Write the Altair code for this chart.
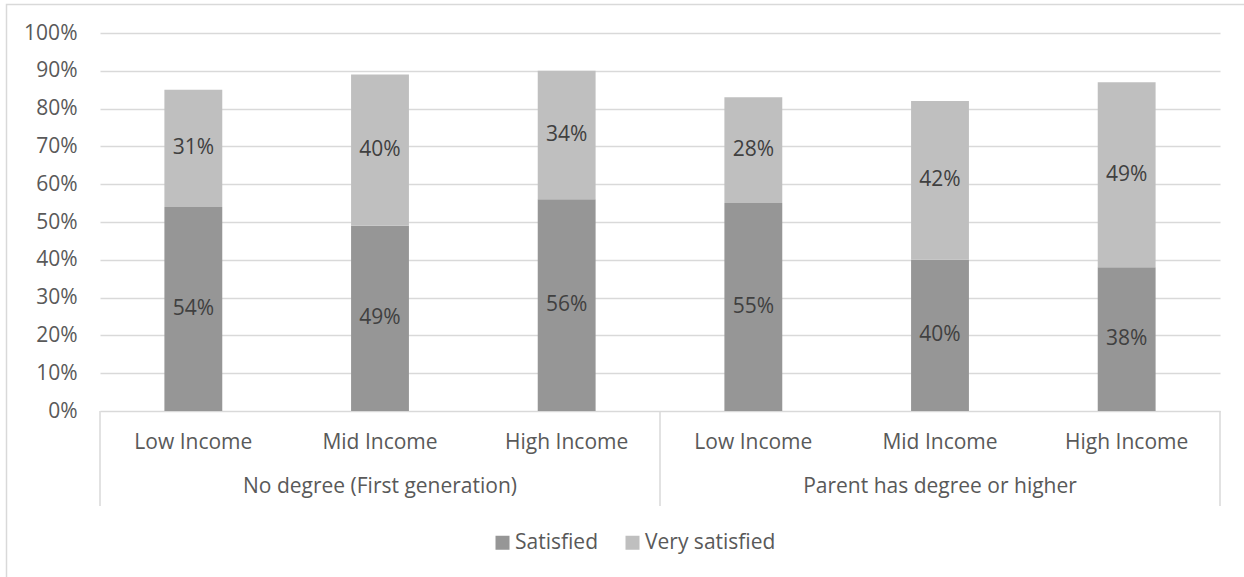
import altair as alt
import pandas as pd

# Survey results: share of students satisfied / very satisfied,
# by parental education and household income
groups = ["No degree (First generation)", "Parent has degree or higher"]
incomes = ["Low Income", "Mid Income", "High Income"]
series = ["Satisfied", "Very satisfied"]
satisfied = [54, 49, 56, 55, 40, 38]
very_satisfied = [31, 40, 34, 28, 42, 49]
y_ticks = [0, 10, 20, 30, 40, 50, 60, 70, 80, 90, 100]
colors = ["#969696", "#bfbfbf"]

FONT = "Open Sans"
FS = 21
TEXT = "#595959"
LINE = "#d9d9d9"

slots, slot_group, slot_income = [], [], []
for gi, g in enumerate(groups):
    for inc in incomes:
        slots.append(f"{gi}|{inc}")
        slot_group.append(g)
        slot_income.append(inc)

rows = []
for i, s in enumerate(slots):
    for k, (name, vals) in enumerate(zip(series, [satisfied, very_satisfied])):
        rows.append({"slot": s, "group": slot_group[i], "income": slot_income[i],
                     "series": name, "order": k, "value": vals[i]})
df = pd.DataFrame(rows)
cats = pd.DataFrame({"slot": slots, "income": slot_income, "group": slot_group})

x_scale = alt.Scale(domain=slots, paddingInner=0, paddingOuter=0)
x_enc = alt.X("slot:N", scale=x_scale, axis=None)
y_scale = alt.Scale(domain=[0, 100], nice=False)

y_axis = alt.Axis(values=y_ticks, tickCount=11, labelExpr="datum.value + '%'", title=None,
                  domain=False, ticks=False, labelPadding=23,
                  labelOverlap=False, labelFontSize=FS,
                  labelColor=TEXT, labelFont=FONT,
                  gridColor=LINE, gridWidth=1.3)

bars = alt.Chart(df).mark_bar(width={"band": 0.31}).encode(
    x=x_enc,
    y=alt.Y("value:Q", stack="zero", scale=y_scale, axis=y_axis),
    color=alt.Color("series:N", scale=alt.Scale(domain=series, range=colors),
                    legend=alt.Legend(title=None, orient="none", direction="horizontal",
                                      legendX=392, legendY=499, padding=0,
                                      symbolType="square", symbolSize=196,
                                      symbolStrokeWidth=0, labelFontSize=FS,
                                      labelFont=FONT, labelColor=TEXT,
                                      labelOffset=2, columnPadding=24)),
    order=alt.Order("order:Q"),
)

labels = alt.Chart(df).transform_stack(
    stack="value", groupby=["slot"], as_=["v0", "v1"], sort=[alt.SortField("order")]
).transform_calculate(
    mid="(datum.v0 + datum.v1) / 2", label="datum.value + '%'"
).mark_text(fontSize=FS, font=FONT, color="#404040", baseline="middle").encode(
    x=x_enc,
    y=alt.Y("mid:Q", scale=y_scale, axis=y_axis),
    text="label:N",
)

income_labels = alt.Chart(cats).mark_text(
    fontSize=FS, font=FONT, color=TEXT, baseline="middle"
).encode(x=x_enc, y=alt.value(410), text="income:N")

group_labels = alt.Chart(cats).transform_filter(
    alt.datum.income == incomes[1]
).mark_text(fontSize=FS, font=FONT, color=TEXT, baseline="middle").encode(
    x=x_enc, y=alt.value(454), text="group:N"
)

# category-axis box: dividers at the start of each group and at the end
dividers_start = alt.Chart(cats).transform_filter(
    alt.datum.income == incomes[0]
).mark_rule(color=LINE, strokeWidth=1.5).encode(
    x=alt.X("slot:N", bandPosition=0, scale=x_scale, axis=None),
    y=alt.value(378), y2=alt.value(473),
)
dividers_end = alt.Chart(cats).transform_filter(
    alt.datum.slot == slots[-1]
).mark_rule(color=LINE, strokeWidth=1.5).encode(
    x=alt.X("slot:N", bandPosition=1, scale=x_scale, axis=None),
    y=alt.value(378), y2=alt.value(473),
)

frame = alt.Chart(pd.DataFrame({"k": [0]})).mark_rect(
    fill="transparent", stroke=LINE, strokeWidth=1.5
).encode(x=alt.value(-93.5), x2=alt.value(1160), y=alt.value(-28.5), y2=alt.value(600))

chart = alt.layer(
    frame, bars, labels, income_labels, group_labels, dividers_start, dividers_end
).properties(
    width=1120, height=378,
    autosize=alt.AutoSizeParams(type="none"),
    padding={"left": 100, "top": 33, "right": 24, "bottom": 166},
    background="white",
).configure_view(stroke=None)

chart.save("out.html", embed_options={"renderer": "svg", "actions": False})
